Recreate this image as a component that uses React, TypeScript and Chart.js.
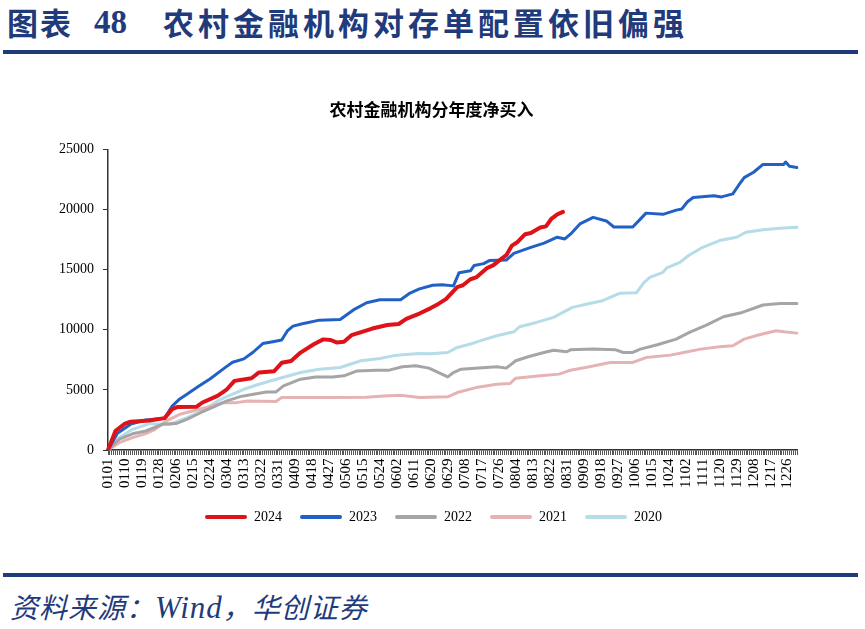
import React, { useEffect, useRef } from "react";
import { Chart, registerables } from "chart.js";

Chart.register(...registerables);

// Calendar (leap year) used for the category axis: 0101 ... 1231
const monthDays = [31, 29, 31, 30, 31, 30, 31, 31, 30, 31, 30, 31];
const dateLabels: string[] = [];
monthDays.forEach((n, m) => {
  for (let d = 1; d <= n; d++) {
    dateLabels.push(String(m + 1).padStart(2, "0") + String(d).padStart(2, "0"));
  }
});
const labelEvery = 9;

const seriesNames = ["2024", "2023", "2022", "2021", "2020"];

const s2024: [string, number][] = [
  ["0101", 0], ["0105", 1600], ["0110", 2200], ["0113", 2350], ["0123", 2450], ["0131", 2650],
  ["0204", 3400], ["0207", 3580], ["0217", 3600], ["0220", 3950], ["0228", 4500], ["0304", 5050],
  ["0308", 5750], ["0317", 5970], ["0321", 6450], ["0329", 6550], ["0402", 7250], ["0407", 7400],
  ["0412", 8100], ["0419", 8800], ["0424", 9200], ["0428", 9150], ["0501", 8950], ["0505", 9000],
  ["0509", 9550], ["0515", 9850], ["0520", 10100], ["0528", 10400], ["0603", 10480], ["0607", 10900],
  ["0614", 11350], ["0620", 11800], ["0624", 12150], ["0628", 12550], ["0704", 13550], ["0707", 13700],
  ["0711", 14200], ["0714", 14350], ["0720", 15150], ["0723", 15350], ["0727", 15850], ["0730", 16200],
  ["0802", 17000], ["0805", 17300], ["0809", 17950], ["0812", 18050], ["0817", 18500], ["0820", 18600],
  ["0823", 19250], ["0826", 19600], ["0829", 19800],
];

const s2023: [string, number][] = [
  ["0101", 0], ["0106", 1400], ["0113", 2150], ["0121", 2500], ["0131", 2650], ["0204", 3650],
  ["0208", 4250], ["0212", 4650], ["0218", 5300], ["0224", 5900], ["0303", 6850], ["0307", 7300],
  ["0313", 7580], ["0318", 8150], ["0323", 8850], ["0329", 9030], ["0402", 9150], ["0405", 9900],
  ["0408", 10300], ["0413", 10500], ["0422", 10800], ["0503", 10850], ["0510", 11650], ["0517", 12250],
  ["0524", 12500], ["0604", 12500], ["0609", 13050], ["0614", 13400], ["0621", 13700], ["0626", 13750],
  ["0702", 13650], ["0705", 14750], ["0711", 14900], ["0713", 15350], ["0718", 15500], ["0721", 15750],
  ["0730", 15800], ["0803", 16350], ["0812", 16850], ["0819", 17200], ["0826", 17700], ["0830", 17550],
  ["0902", 17950], ["0907", 18800], ["0914", 19350], ["0921", 19050], ["0925", 18550], ["1005", 18550],
  ["1009", 19200], ["1012", 19700], ["1021", 19600], ["1028", 19950], ["1031", 20050], ["1103", 20650],
  ["1106", 21000], ["1117", 21150], ["1121", 21050], ["1127", 21300], ["1130", 22000], ["1203", 22650],
  ["1208", 23100], ["1213", 23750], ["1224", 23750], ["1225", 23950], ["1227", 23600], ["1231", 23500],
];

const s2022: [string, number][] = [
  ["0101", 0], ["0107", 900], ["0114", 1350], ["0121", 1580], ["0130", 2140], ["0206", 2200],
  ["0212", 2560], ["0219", 3100], ["0226", 3580], ["0304", 4080], ["0311", 4440], ["0318", 4640],
  ["0325", 4830], ["0330", 4830], ["0403", 5330], ["0412", 5890], ["0420", 6080], ["0429", 6080],
  ["0505", 6170], ["0512", 6580], ["0522", 6640], ["0529", 6640], ["0605", 6920], ["0612", 7000],
  ["0619", 6810], ["0629", 6080], ["0702", 6440], ["0706", 6720], ["0725", 6920], ["0730", 6810],
  ["0804", 7420], ["0811", 7780], ["0819", 8110], ["0824", 8300], ["0831", 8170], ["0902", 8330],
  ["0914", 8390], ["0926", 8330], ["0930", 8110], ["1005", 8110], ["1009", 8390], ["1018", 8750],
  ["1028", 9220], ["1104", 9780], ["1113", 10390], ["1122", 11080], ["1202", 11440], ["1213", 12060],
  ["1222", 12190], ["1231", 12190],
];

const s2021: [string, number][] = [
  ["0101", 0], ["0107", 610], ["0114", 1030], ["0121", 1360], ["0126", 1720], ["0201", 2420],
  ["0208", 2970], ["0215", 3250], ["0222", 3530], ["0302", 3940], ["0309", 3940], ["0315", 4080],
  ["0330", 4030], ["0402", 4360], ["0429", 4360], ["0517", 4390], ["0526", 4500], ["0604", 4560],
  ["0614", 4360], ["0629", 4420], ["0704", 4780], ["0714", 5190], ["0725", 5470], ["0801", 5530],
  ["0804", 5970], ["0817", 6170], ["0827", 6310], ["0902", 6640], ["0912", 6920], ["0923", 7280],
  ["1005", 7280], ["1012", 7690], ["1025", 7890], ["1101", 8110], ["1110", 8390], ["1120", 8580],
  ["1127", 8670], ["1203", 9220], ["1211", 9580], ["1220", 9920], ["1224", 9830], ["1231", 9720],
];

const s2020: [string, number][] = [
  ["0101", 0], ["0107", 1030], ["0114", 1720], ["0123", 2190], ["0203", 2140], ["0212", 2690],
  ["0221", 3310], ["0228", 4080], ["0307", 4640], ["0313", 5050], ["0321", 5470], ["0401", 5970],
  ["0412", 6440], ["0422", 6720], ["0503", 6860], ["0514", 7420], ["0524", 7610], ["0531", 7830],
  ["0605", 7920], ["0614", 8030], ["0620", 8000], ["0629", 8110], ["0704", 8530], ["0711", 8810],
  ["0716", 9080], ["0725", 9500], ["0803", 9830], ["0806", 10250], ["0815", 10610], ["0824", 11030],
  ["0829", 11440], ["0903", 11860], ["0912", 12190], ["0919", 12420], ["0928", 13030], ["1007", 13080],
  ["1011", 13940], ["1014", 14360], ["1021", 14780], ["1023", 15140], ["1030", 15610], ["1104", 16220],
  ["1111", 16860], ["1120", 17420], ["1129", 17690], ["1204", 18110], ["1213", 18310], ["1222", 18440],
  ["1231", 18530],
];

const seriesData = [s2024, s2023, s2022, s2021, s2020];
const seriesColors = ["#DE1219", "#2161C5", "#A5A5A5", "#E5B3B3", "#B5DCE7"];
const seriesWidths = [4, 3, 3, 3, 3];

const yTicks = [0, 5000, 10000, 15000, 20000, 25000];

// nudges the title and legend boxes horizontally so they sit centred like the reference
const boxShift = {
  id: "boxShift",
  afterLayout(chart: any) {
    const t = chart.titleBlock;
    if (t) {
      t.left += 5;
      t.right += 5;
    }
    const l = chart.legend;
    if (l) {
      l.left += 7;
      l.right += 7;
    }
  },
};

export default function App() {
  const ref = useRef<HTMLCanvasElement | null>(null);

  useEffect(() => {
    if (!ref.current) return;
    const chart = new Chart(ref.current, {
      type: "line",
      data: {
        labels: dateLabels,
        datasets: seriesNames.map((name, i) => ({
          label: name,
          data: seriesData[i].map(([x, y]) => ({ x, y })),
          borderColor: seriesColors[i],
          backgroundColor: seriesColors[i],
          borderWidth: seriesWidths[i],
          pointRadius: 0,
          tension: 0,
          borderJoinStyle: "round" as const,
          borderCapStyle: "round" as const,
        })),
      },
      plugins: [boxShift],
      options: {
        animation: false,
        responsive: false,
        devicePixelRatio: 1,
        layout: { padding: { left: 56, right: 68, top: 0, bottom: 16 } },
        plugins: {
          title: {
            display: true,
            text: "农村金融机构分年度净买入",
            color: "#000",
            font: { family: "'Noto Sans CJK SC'", size: 17, weight: "bold" },
            padding: { top: 39, bottom: 30 },
          },
          legend: {
            position: "bottom",
            labels: {
              boxWidth: 42,
              boxHeight: 4,
              padding: 18,
              color: "#000",
              font: { family: "'Liberation Serif'", size: 14 },
              generateLabels: (c: any) =>
                c.data.datasets.map((ds: any, i: number) => ({
                  text: ds.label,
                  fillStyle: ds.borderColor,
                  strokeStyle: ds.borderColor,
                  lineWidth: 0,
                  borderRadius: 2,
                  hidden: false,
                  datasetIndex: i,
                  fontColor: "#000",
                })),
            },
          },
          tooltip: { enabled: false },
        },
        scales: {
          x: {
            type: "category",
            offset: false,
            ticks: {
              autoSkip: false,
              maxRotation: 90,
              minRotation: 90,
              padding: 3.5,
              color: "#000",
              font: { family: "'Liberation Serif'", size: 15 },
              callback: (_v: any, i: number) => (i % labelEvery === 0 ? dateLabels[i] : ""),
            },
            grid: { drawOnChartArea: false, drawTicks: true, tickLength: 5, color: "#555", lineWidth: 1 },
            border: { color: "#333", width: 1.5 },
          },
          y: {
            min: yTicks[0],
            max: yTicks[yTicks.length - 1],
            afterFit: (s: any) => {
              s.width = 52;
            },
            ticks: {
              stepSize: yTicks[1] - yTicks[0],
              padding: 9,
              color: "#000",
              font: { family: "'Liberation Serif'", size: 14 },
              callback: (v: any) => String(v),
            },
            grid: { drawOnChartArea: false, drawTicks: true, tickLength: 5, color: "#333" },
            border: { color: "#333", width: 1.5 },
          },
        },
      },
    });
    return () => chart.destroy();
  }, []);

  const navy = "#1F3B7B";
  return (
    <div style={{ position: "absolute", left: 0, top: 0, width: 865, height: 629, background: "#fff", overflow: "hidden" }}>
      <div style={{ position: "absolute", left: 7, top: 5, fontFamily: "'Noto Sans CJK SC'", fontWeight: 700, fontSize: 31, lineHeight: "34px", color: navy, letterSpacing: 2, whiteSpace: "nowrap" }}>
        图表
      </div>
      <div style={{ position: "absolute", left: 94, top: 5, fontFamily: "'Liberation Serif'", fontWeight: 700, fontSize: 33, lineHeight: "34px", color: navy, whiteSpace: "nowrap" }}>
        48
      </div>
      <div style={{ position: "absolute", left: 163, top: 5, fontFamily: "'Noto Sans CJK SC'", fontWeight: 700, fontSize: 31, lineHeight: "34px", color: navy, letterSpacing: 4, whiteSpace: "nowrap" }}>
        农村金融机构对存单配置依旧偏强
      </div>
      <div style={{ position: "absolute", left: 3, top: 50, width: 855, height: 4, background: navy }} />
      <canvas ref={ref} width={865} height={490} style={{ position: "absolute", left: 0, top: 60, width: 865, height: 490 }} />
      <div style={{ position: "absolute", left: 3, top: 573, width: 855, height: 4, background: navy }} />
      <div style={{ position: "absolute", left: 10, top: 589, fontFamily: "'Noto Sans CJK SC'", fontStyle: "italic", fontSize: 28, lineHeight: "34px", color: navy, letterSpacing: 1, whiteSpace: "nowrap" }}>
        资料来源：<span style={{ fontFamily: "'Liberation Serif'", fontSize: 31 }}>Wind</span>，华创证券
      </div>
    </div>
  );
}
